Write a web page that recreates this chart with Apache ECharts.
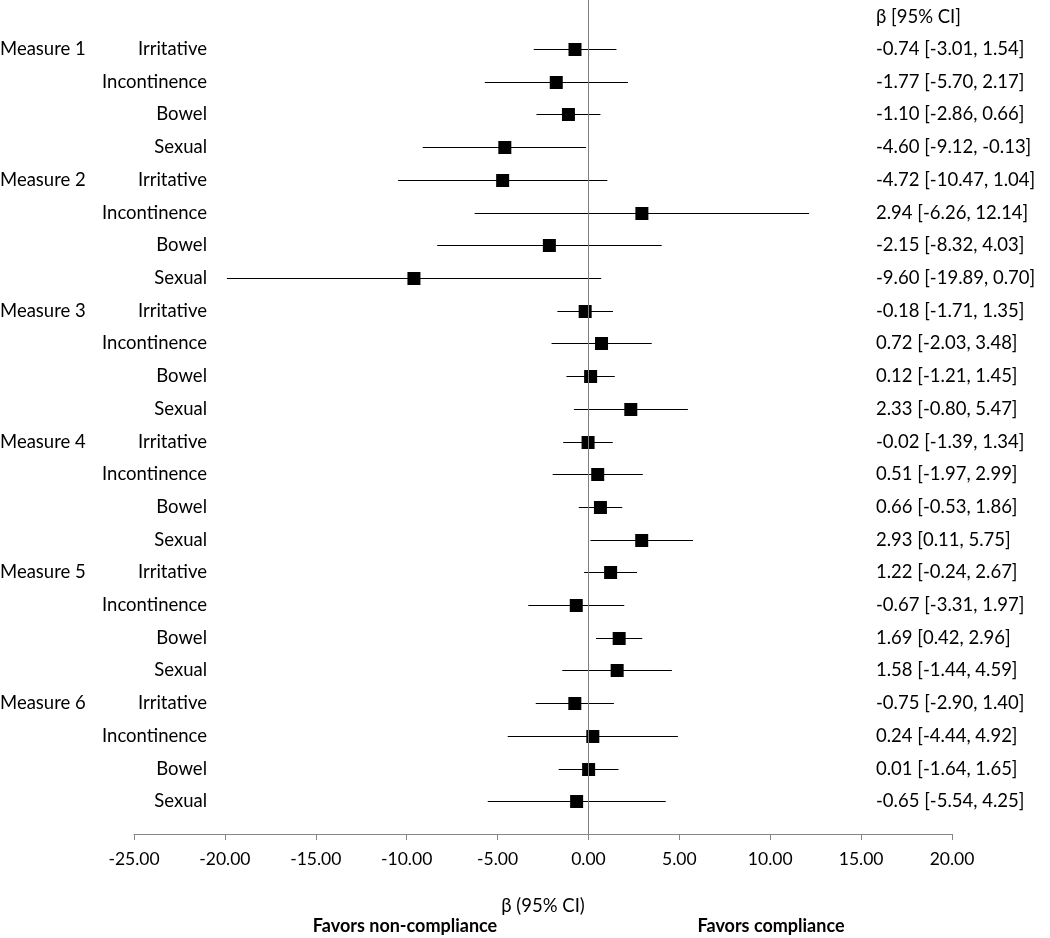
<!DOCTYPE html>
<html><head><meta charset="utf-8">
<script src="https://cdn.jsdelivr.net/npm/echarts@6/dist/echarts.min.js"></script>
<style>html,body{margin:0;padding:0;background:#fff}#c{width:1050px;height:938px}</style>
</head><body><div id="c"></div>
<script>
const measures = ['Measure 1','Measure 2','Measure 3','Measure 4','Measure 5','Measure 6'];
const domains = ['Irritative','Incontinence','Bowel','Sexual'];
const beta  = [-0.74,-1.77,-1.10,-4.60, -4.72,2.94,-2.15,-9.60, -0.18,0.72,0.12,2.33, -0.02,0.51,0.66,2.93, 1.22,-0.67,1.69,1.58, -0.75,0.24,0.01,-0.65];
const lower = [-3.01,-5.70,-2.86,-9.12, -10.47,-6.26,-8.32,-19.89, -1.71,-2.03,-1.21,-0.80, -1.39,-1.97,-0.53,0.11, -0.24,-3.31,0.42,-1.44, -2.90,-4.44,-1.64,-5.54];
const upper = [1.54,2.17,0.66,-0.13, 1.04,12.14,4.03,0.70, 1.35,3.48,1.45,5.47, 1.34,2.99,1.86,5.75, 2.67,1.97,2.96,4.59, 1.40,4.92,1.65,4.25];
const xMin = -25, xMax = 20, xStep = 5;

const FONT = 'Lato';
const FS = 18.5;
const rows = beta.map((b, i) => [b, lower[i], upper[i], i]);
const fmt = v => v.toFixed(2);

const chart = echarts.init(document.getElementById('c'));
chart.setOption({
  animation: false,
  backgroundColor: '#fff',
  textStyle: { fontFamily: FONT },
  grid: { left: 134, right: 98, top: 0, bottom: 104 },
  xAxis: {
    type: 'value', min: xMin, max: xMax, interval: xStep,
    axisLine: { show: true, onZero: false, lineStyle: { color: '#868686', width: 1 } },
    axisTick: { show: true, length: 6, lineStyle: { color: '#868686' } },
    splitLine: { show: false },
    axisLabel: { formatter: v => fmt(v), color: '#000', fontSize: 17.5, fontFamily: FONT, margin: 16 },
    name: 'β (95% CI)', nameLocation: 'middle', nameGap: 63,
    nameTextStyle: { color: '#000', fontSize: FS, fontFamily: FONT }
  },
  yAxis: {
    type: 'value', min: -1.5, max: 24, inverse: true,
    show: false
  },
  graphic: [
    { type: 'text', x: 876, y: 17, style: { text: 'β [95% CI]', verticalAlign: 'middle', fontSize: FS, fontFamily: FONT, fill: '#000' } },
    { type: 'text', x: 405, y: 926, style: { text: 'Favors non-compliance', align: 'center', verticalAlign: 'middle', fontSize: 18, fontWeight: 'bold', fontFamily: FONT, fill: '#000' } },
    { type: 'text', x: 771, y: 926, style: { text: 'Favors compliance', align: 'center', verticalAlign: 'middle', fontSize: 18, fontWeight: 'bold', fontFamily: FONT, fill: '#000' } }
  ],
  series: [{
    type: 'custom',
    data: rows,
    clip: false,
    encode: { x: [0, 1, 2], y: 3 },
    renderItem: function (params, api) {
      const i = api.value(3);
      const pb = api.coord([api.value(0), i]);
      const pl = api.coord([api.value(1), i]);
      const pu = api.coord([api.value(2), i]);
      const y = Math.round(pb[1]) + 0.5;
      const s = 13;
      const children = [
        { type: 'line', shape: { x1: pl[0], y1: y, x2: pu[0], y2: y }, style: { stroke: '#000', lineWidth: 1.2 } },
        { type: 'rect', shape: { x: pb[0] - s / 2, y: y - s / 2, width: s, height: s }, style: { fill: '#000' } },
        { type: 'text', style: { text: domains[i % 4], x: 207, y: y, align: 'right', verticalAlign: 'middle', fontSize: FS, fontFamily: FONT, fill: '#000' } },
        { type: 'text', style: { text: fmt(beta[i]) + ' [' + fmt(lower[i]) + ', ' + fmt(upper[i]) + ']', x: 876, y: y, align: 'left', verticalAlign: 'middle', fontSize: FS, fontFamily: FONT, fill: '#000' } }
      ];
      if (i % 4 === 0) {
        children.push({ type: 'text', style: { text: measures[i / 4], x: 0, y: y, align: 'left', verticalAlign: 'middle', fontSize: FS, fontFamily: FONT, fill: '#000' } });
      }
      return { type: 'group', children: children };
    },
    markLine: {
      silent: true, symbol: 'none', label: { show: false },
      lineStyle: { color: '#808080', width: 1, type: 'solid' },
      data: [{ xAxis: 0 }]
    }
  }]
});
</script></body></html>
